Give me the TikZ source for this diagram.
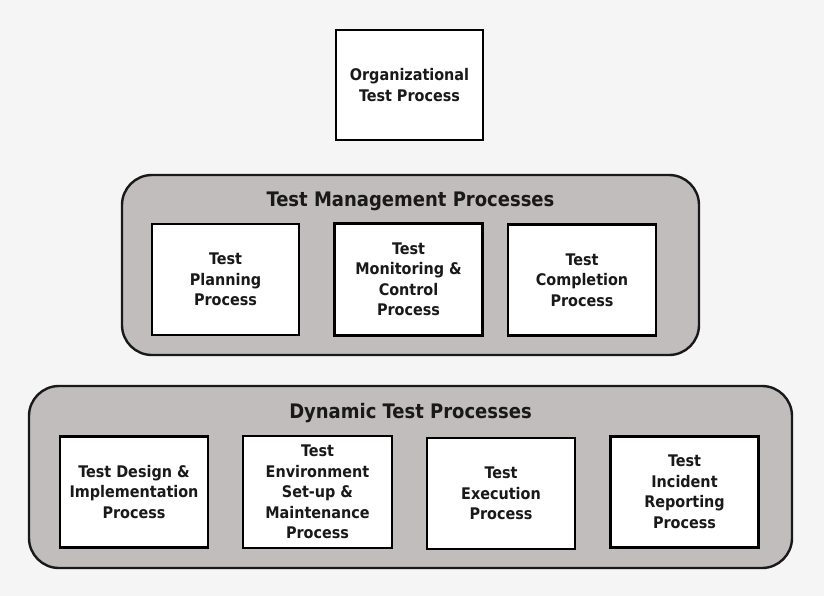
\documentclass[tikz,border=0pt]{standalone}
\usepackage{fontspec}
\setmainfont{DejaVu Sans Condensed}
\begin{document}
\begin{tikzpicture}[x=1pt,y=-1pt,
  inner/.style={draw=black,line width=2.6pt,fill=white,align=center,font=\bfseries\fontsize{16}{20.5}\selectfont,text=black!90,inner sep=0pt},
  group/.style={draw=black!90,line width=2.4pt,fill=groupgray,rounded corners=30pt},
  title/.style={font=\bfseries\fontsize{20}{24}\selectfont,text=black!90,inner sep=0pt}]
\definecolor{bggray}{HTML}{F4F5F4}
\definecolor{groupgray}{HTML}{C1BDBC}
\fill[bggray] (0,0) rectangle (824,596);
\useasboundingbox (0,0) rectangle (824,596);
% top
\node[inner,minimum width=147pt,minimum height=110pt] (org) at (409.5,85) {Organizational\\Test Process};
% management group
\node[group,minimum width=577pt,minimum height=180pt] (mgmt) at (410.5,265) {};
\node[title] (mgmtt) at (410.5,201.5) {Test Management Processes};
\node[inner,minimum width=147pt,minimum height=111pt] (plan) at (225.5,279.5) {Test\\Planning\\Process};
\node[inner,minimum width=148pt,minimum height=112pt] (mon) at (408.5,279.5) {Test\\Monitoring \&\\Control\\Process};
\node[inner,minimum width=148pt,minimum height=111pt] (comp) at (582,280) {Test\\Completion\\Process};
% dynamic group
\node[group,minimum width=763pt,minimum height=182pt] (dyn) at (410.5,477) {};
\node[title] (dynt) at (410.5,413.5) {Dynamic Test Processes};
\node[inner,minimum width=148pt,minimum height=111pt] (des) at (134,492) {Test Design \&\\Implementation\\Process};
\node[inner,minimum width=149pt,minimum height=112pt] (env) at (317.5,492) {Test\\Environment\\Set-up \&\\Maintenance\\Process};
\node[inner,minimum width=148pt,minimum height=111pt] (exe) at (501,493.5) {Test\\Execution\\Process};
\node[inner,minimum width=148pt,minimum height=111pt] (inc) at (684.5,492) {Test\\Incident\\Reporting\\Process};
\end{tikzpicture}
\end{document}
